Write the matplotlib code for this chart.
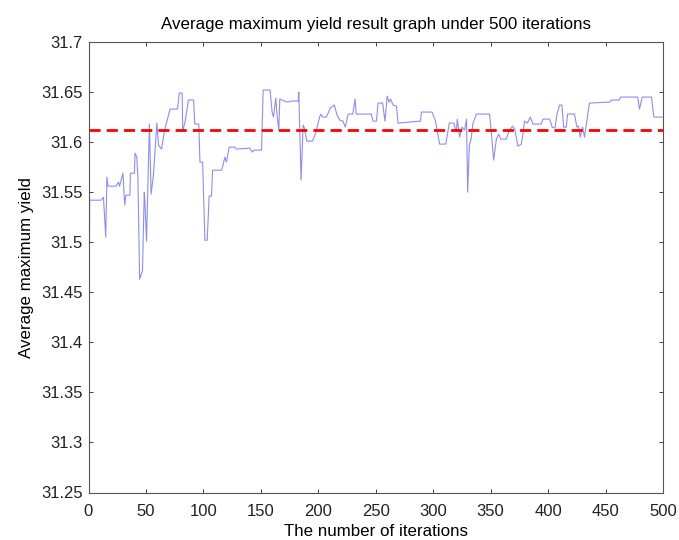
import numpy as np
import matplotlib
matplotlib.use("Agg")
import matplotlib.pyplot as plt

plt.rcParams['font.family'] = ['Liberation Sans', 'DejaVu Sans']

# (iteration, value) breakpoints
iters = [0, 1, 11, 13, 15, 16, 17, 24, 26, 27, 30, 31.5, 32.5, 36, 36.5, 40, 40.5, 42, 43,
         44.5, 47, 48.5, 49, 50.5, 53, 54.5, 56.5, 59.5, 61, 63.6, 66, 71, 77.5, 79, 81.5,
         82, 84, 87, 91.5, 92.5, 96, 97, 99.3, 101.3, 103.3, 105, 107, 108, 116, 118.7,
         120, 122.5, 127.4, 128.5, 140.4, 142.5, 144, 150.6, 152, 158, 159.8, 161, 163,
         164, 165.6, 166.5, 172.8, 176.7, 182.5, 183, 185, 186.8, 188, 190, 195, 198, 200,
         202, 204, 207, 210.5, 214, 216, 218.6, 221.5, 223.5, 226, 230, 232, 233, 246,
         247.7, 250.6, 252, 256, 258, 260, 261.5, 263, 265, 268, 269.4, 289, 289.7, 299,
         302, 305.6, 311, 314, 318, 320, 321, 323, 325, 327.4, 329, 330, 331.5, 333, 334.6,
         337.6, 349, 350.6, 352.6, 355, 357, 358.7, 363.6, 366, 369, 371, 373.7, 376.7,
         378, 379.5, 382, 384.5, 386.8, 394, 395.5, 401.3, 403.6, 406, 407.7, 410, 412,
         413.5, 415.8, 417, 423, 425, 426.5, 428, 430, 431.7, 433.8, 436, 453.5, 455, 462,
         463, 478, 479.5, 482, 490, 492, 500]
values = [31.292, 31.542, 31.542, 31.545, 31.505, 31.565, 31.556, 31.556, 31.560, 31.556,
          31.569, 31.537, 31.547, 31.547, 31.569, 31.569, 31.589, 31.585, 31.565,
          31.463, 31.472, 31.550, 31.543, 31.501, 31.618, 31.548, 31.567, 31.619, 31.597,
          31.593, 31.611, 31.633, 31.633, 31.649, 31.649, 31.611, 31.620, 31.642, 31.642,
          31.618, 31.618, 31.580, 31.580, 31.502, 31.502, 31.546, 31.546, 31.572, 31.572,
          31.585, 31.580, 31.595, 31.595, 31.593, 31.594, 31.590, 31.592, 31.592, 31.652,
          31.652, 31.630, 31.625, 31.644, 31.628, 31.612, 31.643, 31.640, 31.641, 31.641,
          31.650, 31.562, 31.617, 31.614, 31.601, 31.601, 31.610, 31.620, 31.628, 31.625,
          31.625, 31.634, 31.637, 31.628, 31.622, 31.621, 31.615, 31.628, 31.628, 31.643,
          31.628, 31.628, 31.621, 31.621, 31.639, 31.639, 31.621, 31.646, 31.640, 31.643,
          31.637, 31.636, 31.619, 31.621, 31.630, 31.630, 31.621, 31.598, 31.598, 31.619,
          31.619, 31.610, 31.623, 31.605, 31.615, 31.612, 31.623, 31.550, 31.597, 31.603,
          31.619, 31.628, 31.628, 31.610, 31.582, 31.603, 31.608, 31.603, 31.603, 31.611,
          31.616, 31.613, 31.596, 31.598, 31.607, 31.621, 31.619, 31.625, 31.618, 31.618,
          31.623, 31.623, 31.615, 31.614, 31.628, 31.637, 31.637, 31.615, 31.615, 31.628,
          31.628, 31.615, 31.616, 31.605, 31.615, 31.605, 31.622, 31.639, 31.640, 31.642,
          31.642, 31.645, 31.645, 31.633, 31.645, 31.645, 31.625, 31.625]
mean_value = 31.612

xticks = [0, 50, 100, 150, 200, 250, 300, 350, 400, 450, 500]
yticks = [31.25, 31.3, 31.35, 31.4, 31.45, 31.5, 31.55, 31.6, 31.65, 31.7]
ytick_labels = ['31.25', '31.3', '31.35', '31.4', '31.45', '31.5', '31.55', '31.6', '31.65', '31.7']

fig = plt.figure(figsize=(6.79, 5.40), dpi=100)
ax = fig.add_axes([88.5/679, 1-492.5/540, (663-88.5)/679, (492.5-42)/540])

ax.plot(iters, values, color='#8c8cff', linewidth=0.8)
ax.axhline(mean_value, color='#ff0000', linestyle=(0, (4, 2.2)), linewidth=2)

ax.set_xlim(0, 500)
ax.set_ylim(31.25, 31.7)
ax.set_xticks(xticks)
ax.set_yticks(yticks)
ax.set_yticklabels(ytick_labels)
ax.tick_params(direction='in', length=3, width=0.6, top=True, right=True,
               labelsize=12, colors='#222222')
ax.tick_params(axis='x', pad=8)
ax.tick_params(axis='y', pad=4)
for s in ax.spines.values():
    s.set_color('#555555')
    s.set_linewidth(0.8)

ax.set_title('Average maximum yield result graph under 500 iterations', fontsize=12.2, pad=9)
ax.set_xlabel('The number of iterations', fontsize=12.2, labelpad=4)
ax.set_ylabel('Average maximum yield', fontsize=12.2, labelpad=5)

fig.savefig('out.png', dpi=100)
